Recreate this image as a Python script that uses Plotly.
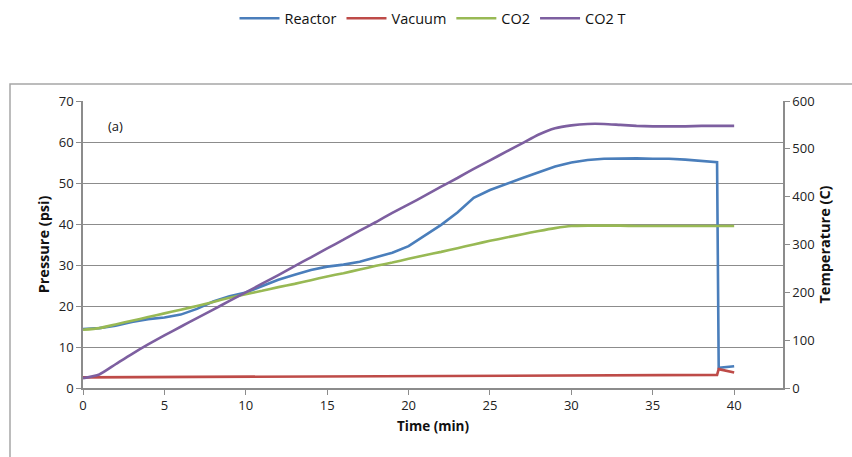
import plotly.graph_objects as go

# ---- data ----
time_main = list(range(0, 39)) + [38.95]
reactor_main = [14.4, 14.6, 15.2, 16.1, 16.8, 17.2, 17.9, 19.3, 21.1, 22.4,
                23.3, 24.8, 26.4, 27.6, 28.8, 29.6, 30.1, 30.8, 31.9, 33.0,
                34.6, 37.1, 39.8, 42.8, 46.4, 48.3, 49.8, 51.2, 52.6, 54.0,
                55.0, 55.6, 55.9, 56.0, 56.0, 55.9, 55.9, 55.7, 55.3, 55.1]
time_reactor_end = [39.05, 40]
reactor_end = [4.9, 5.3]

time_vacuum = [0, 5, 10, 15, 20, 25, 30, 35, 38.95, 39.05, 40]
vacuum = [2.6, 2.7, 2.75, 2.85, 2.9, 3.0, 3.05, 3.15, 3.2, 4.6, 3.8]

time_co2 = list(range(0, 41))
co2 = [14.2, 14.6, 15.5, 16.4, 17.3, 18.2, 19.1, 20.0, 21.0, 22.0,
       22.9, 23.7, 24.6, 25.4, 26.3, 27.2, 28.0, 28.9, 29.8, 30.6,
       31.5, 32.4, 33.2, 34.1, 35.0, 35.9, 36.7, 37.5, 38.3, 39.0,
       39.5, 39.6, 39.6, 39.6, 39.5, 39.5, 39.5, 39.5, 39.5, 39.5, 39.5]

time_co2t = list(range(0, 41))
co2_t = [20.6, 28.3, 49.7, 71, 91, 110, 128, 146, 164, 182,
         200, 218, 236, 255, 273, 292, 310, 329, 347, 366,
         384, 402, 421, 439, 458, 476, 494, 512, 530, 543,
         549, 552, 552, 550, 548, 547, 547, 547, 548, 548, 548]

x_ticks = [0, 5, 10, 15, 20, 25, 30, 35, 40]

reactor_t = time_main + time_reactor_end
reactor = reactor_main + reactor_end

BLUE = "#4A7EBB"
RED = "#BE4B48"
GREEN = "#98B954"
PURPLE = "#7D5FA0"
GRID = "#8C8C8C"
FONT = "Open Sans"

fig = go.Figure()
fig.add_trace(go.Scatter(x=reactor_t, y=reactor, name="Reactor", mode="lines",
                         line=dict(color=BLUE, width=2.6)))
fig.add_trace(go.Scatter(x=time_vacuum, y=vacuum, name="Vacuum", mode="lines",
                         line=dict(color=RED, width=2.6)))
fig.add_trace(go.Scatter(x=time_co2, y=co2, name="CO2", mode="lines",
                         line=dict(color=GREEN, width=2.6, shape="spline", smoothing=0.6)))
fig.add_trace(go.Scatter(x=time_co2t, y=co2_t, name="CO2 T", mode="lines",
                         line=dict(color=PURPLE, width=2.6, shape="spline", smoothing=0.6),
                         yaxis="y2"))

fig.update_layout(
    width=852, height=457,
    margin=dict(l=83, r=69, t=101, b=69),
    paper_bgcolor="white", plot_bgcolor="white",
    font=dict(family=FONT, size=13, color="#222"),
    showlegend=True,
    legend=dict(orientation="h", x=0.5, xanchor="center", y=0.995, yanchor="top",
                yref="container", font=dict(size=14.5, color="#111"),
                itemwidth=40, tracegroupgap=0),
    xaxis=dict(range=[0, 43], tickvals=x_ticks, showgrid=False,
               showline=True, linecolor=GRID, linewidth=1.5,
               ticks="outside", ticklen=5, tickcolor=GRID,
               title=dict(text="<b>Time (min)</b>", font=dict(size=13.5, color="#111"), standoff=8),
               zeroline=False, tickfont=dict(size=13)),
    yaxis=dict(range=[0, 70], dtick=10, showgrid=True, gridcolor=GRID, gridwidth=1.2,
               showline=True, linecolor=GRID, linewidth=1.5,
               ticks="outside", ticklen=5, tickcolor=GRID,
               title=dict(text="<b>Pressure (psi)</b>", font=dict(size=14.5, color="#111"), standoff=6),
               zeroline=False, tickfont=dict(size=13)),
    yaxis2=dict(range=[0, 600], dtick=100, overlaying="y", side="right",
                showgrid=False, showline=True, linecolor=GRID, linewidth=1.5,
                ticks="outside", ticklen=5, tickcolor=GRID,
                title=dict(text="<b>Temperature (C)</b>", font=dict(size=14.5, color="#111"), standoff=6),
                zeroline=False, tickfont=dict(size=13)),
    annotations=[dict(x=2, y=64, xref="x", yref="y", text="(a)", showarrow=False,
                      font=dict(size=13, color="#111"))],
    shapes=[dict(type="rect", xref="paper", yref="paper",
                 x0=-73/700, x1=1.2, y0=-0.5, y1=1 + 17/287,
                 line=dict(color="#A6A6A6", width=1.5), layer="below")],
)

fig.write_html("out.html")
